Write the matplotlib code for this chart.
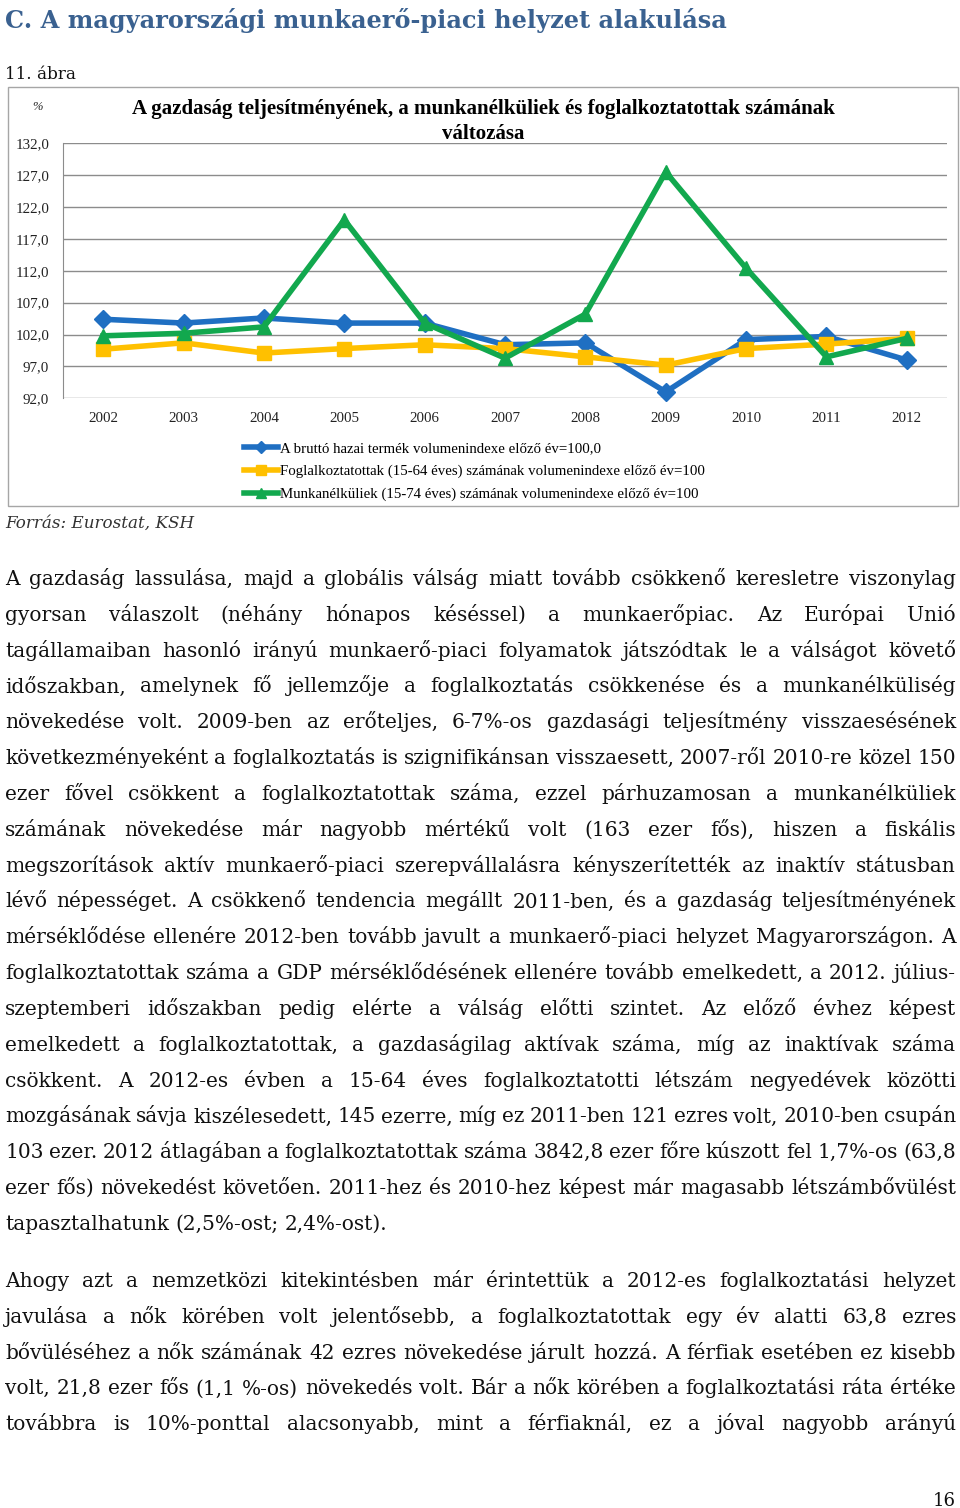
import matplotlib
matplotlib.use('Agg')
import matplotlib.pyplot as plt
from matplotlib.font_manager import FontProperties
from matplotlib.patches import Rectangle

# chart data
years = ['2002', '2003', '2004', '2005', '2006', '2007', '2008', '2009', '2010', '2011', '2012']
gdp = [104.4, 103.8, 104.6, 103.8, 103.8, 100.4, 100.7, 93.0, 101.2, 101.7, 98.0]
employed = [99.7, 100.7, 99.1, 99.8, 100.4, 99.8, 98.5, 97.2, 99.8, 100.5, 101.4]
unemployed = [101.8, 102.2, 103.2, 120.0, 103.8, 98.3, 105.2, 127.5, 112.4, 98.5, 101.4]
yticks = [92, 97, 102, 107, 112, 117, 122, 127, 132]
labels = ['A bruttó hazai termék volumenindexe előző év=100,0',
          'Foglalkoztatottak (15-64 éves) számának volumenindexe előző év=100',
          'Munkanélküliek (15-74 éves) számának volumenindexe előző év=100']
colors = ['#1f6fc2', '#ffc000', '#12a84e']
markers = ['D', 's', '^']

heading = 'C. A magyarországi munkaerő-piaci helyzet alakulása'
fig_label = '11. ábra'
title1 = 'A gazdaság teljesítményének, a munkanélküliek és foglalkoztatottak számának'
title2 = 'változása'
source = 'Forrás: Eurostat, KSH'

para1 = [
    'A gazdaság lassulása, majd a globális válság miatt tovább csökkenő keresletre viszonylag',
    'gyorsan válaszolt (néhány hónapos késéssel) a munkaerőpiac. Az Európai Unió',
    'tagállamaiban hasonló irányú munkaerő-piaci folyamatok játszódtak le a válságot követő',
    'időszakban, amelynek fő jellemzője a foglalkoztatás csökkenése és a munkanélküliség',
    'növekedése volt. 2009-ben az erőteljes, 6-7%-os gazdasági teljesítmény visszaesésének',
    'következményeként a foglalkoztatás is szignifikánsan visszaesett, 2007-ről 2010-re közel 150',
    'ezer fővel csökkent a foglalkoztatottak száma, ezzel párhuzamosan a munkanélküliek',
    'számának növekedése már nagyobb mértékű volt (163 ezer fős), hiszen a fiskális',
    'megszorítások aktív munkaerő-piaci szerepvállalásra kényszerítették az inaktív státusban',
    'lévő népességet. A csökkenő tendencia megállt 2011-ben, és a gazdaság teljesítményének',
    'mérséklődése ellenére 2012-ben tovább javult a munkaerő-piaci helyzet Magyarországon. A',
    'foglalkoztatottak száma a GDP mérséklődésének ellenére tovább emelkedett, a 2012. július-',
    'szeptemberi időszakban pedig elérte a válság előtti szintet. Az előző évhez képest',
    'emelkedett a foglalkoztatottak, a gazdaságilag aktívak száma, míg az inaktívak száma',
    'csökkent. A 2012-es évben a 15-64 éves foglalkoztatotti létszám negyedévek közötti',
    'mozgásának sávja kiszélesedett, 145 ezerre, míg ez 2011-ben 121 ezres volt, 2010-ben csupán',
    '103 ezer. 2012 átlagában a foglalkoztatottak száma 3842,8 ezer főre kúszott fel 1,7%-os (63,8',
    'ezer fős) növekedést követően. 2011-hez és 2010-hez képest már magasabb létszámbővülést',
    'tapasztalhatunk (2,5%-ost; 2,4%-ost).',
]
para2 = [
    'Ahogy azt a nemzetközi kitekintésben már érintettük a 2012-es foglalkoztatási helyzet',
    'javulása a nők körében volt jelentősebb, a foglalkoztatottak egy év alatti 63,8 ezres',
    'bővüléséhez a nők számának 42 ezres növekedése járult hozzá. A férfiak esetében ez kisebb',
    'volt, 21,8 ezer fős (1,1 %-os) növekedés volt. Bár a nők körében a foglalkoztatási ráta értéke',
    'továbbra is 10%-ponttal alacsonyabb, mint a férfiaknál, ez a jóval nagyobb arányú',
]
page_no = '16'

W, H = 960, 1508
fig = plt.figure(figsize=(W / 100, H / 100), dpi=100)
renderer = fig.canvas.get_renderer()


def fx(x):
    return x / W


def fy(y):
    return 1 - y / H


def width_of(s, prop):
    w, _, _ = renderer.get_text_width_height_descent(s, prop, ismath=False)
    return w


def fitted_size(s, family, target, **kw):
    prop = FontProperties(family=family, size=10, **kw)
    return 10 * target / width_of(s, prop)


# heading and figure number
hsize = fitted_size(heading, 'DejaVu Serif', 722, weight='bold')
fig.text(fx(5), fy(28), heading, family='DejaVu Serif', weight='bold',
         size=hsize, color='#3a6190', va='baseline')
fig.text(fx(5), fy(79), fig_label, family='DejaVu Serif',
         size=fitted_size(fig_label, 'DejaVu Serif', 71), color='#111111', va='baseline')

# chart frame
fig.add_artist(Rectangle((fx(8), fy(506)), (958 - 8) / W, (506 - 87) / H,
                         transform=fig.transFigure, fill=False,
                         edgecolor='#a6a6a6', lw=1))

ax = fig.add_axes([fx(63), fy(398.3), 884 / W, 255 / H])
x = range(len(years))
series = [gdp, employed, unemployed]
handles = []
for vals, c, m, lab in zip(series, colors, markers, labels):
    ms = 9 if m == 'D' else 10
    h, = ax.plot(x, vals, color=c, lw=4, marker=m, ms=ms, label=lab,
                 solid_joinstyle='miter', clip_on=False)
    handles.append(h)

ax.set_xlim(-0.5, len(years) - 0.5)
ax.set_ylim(92, 132)
ax.set_yticks(yticks)
ax.set_yticklabels([f'{v:.1f}'.replace('.', ',') for v in yticks])
ax.set_xticks(list(x))
ax.set_xticklabels(years)
ax.tick_params(length=0, labelsize=10.8, colors='#222222')
ax.tick_params(axis='y', pad=10)
ax.tick_params(axis='x', pad=10)
for lab in ax.get_xticklabels() + ax.get_yticklabels():
    lab.set_family('Liberation Serif')
ax.grid(axis='y', color='#8c8c8c', lw=1)
ax.set_axisbelow(True)
for s in ['top', 'right', 'bottom']:
    ax.spines[s].set_visible(False)
ax.spines['left'].set_color('#8c8c8c')

fig.text(fx(37), fy(107), '%', family='Liberation Serif', size=9, style='italic',
         ha='center', va='center', color='#222222')
tsize = fitted_size(title1, 'Liberation Serif', 707, weight='bold')
fig.text(fx(483), fy(114), title1, family='Liberation Serif', weight='bold',
         size=tsize, ha='center', va='baseline')
fig.text(fx(483), fy(139), title2, family='Liberation Serif', weight='bold',
         size=tsize, ha='center', va='baseline')

fig.legend(handles=handles, loc='upper left', bbox_to_anchor=(fx(244), fy(442)),
           frameon=False, prop=FontProperties(family='Liberation Serif', size=10.7),
           handlelength=2.3, handletextpad=0.1, labelspacing=0.62, borderpad=0,
           borderaxespad=0, markerscale=0.7)

fig.text(fx(5), fy(528), source, family='DejaVu Serif', style='italic',
         size=fitted_size(source, 'DejaVu Serif', 188, style='italic'),
         color='#333333', va='baseline')

# justified body text, one size per line (capped) so every line fits
left, right = 5, 956
body_family = 'DejaVu Serif'
max_size = 14.5
min_gap = 5.5


def line_size(words):
    prop = FontProperties(family=body_family, size=10)
    total = sum(width_of(w, prop) for w in words)
    fit = 10 * (right - left - min_gap * (len(words) - 1)) / total
    return min(max_size, fit)


def draw_paragraph(lines, top, step, last_left):
    for i, line in enumerate(lines):
        words = line.split(' ')
        prop = FontProperties(family=body_family, size=line_size(words))
        widths = [width_of(w, prop) for w in words]
        if (last_left and i == len(lines) - 1) or len(words) == 1:
            gap = width_of('a a', prop) - width_of('aa', prop)
        else:
            gap = (right - left - sum(widths)) / (len(words) - 1)
        xp = left
        for w, wd in zip(words, widths):
            fig.text(fx(xp), fy(top + i * step), w, fontproperties=prop,
                     color='#111111', va='baseline')
            xp += wd + gap


draw_paragraph(para1, 585, 35.83, True)
draw_paragraph(para2, 1287, 35.8, False)

fig.text(fx(956), fy(1506), page_no, family='DejaVu Serif', size=13,
         ha='right', va='baseline', color='#111111')

fig.savefig('out.png', dpi=100)
